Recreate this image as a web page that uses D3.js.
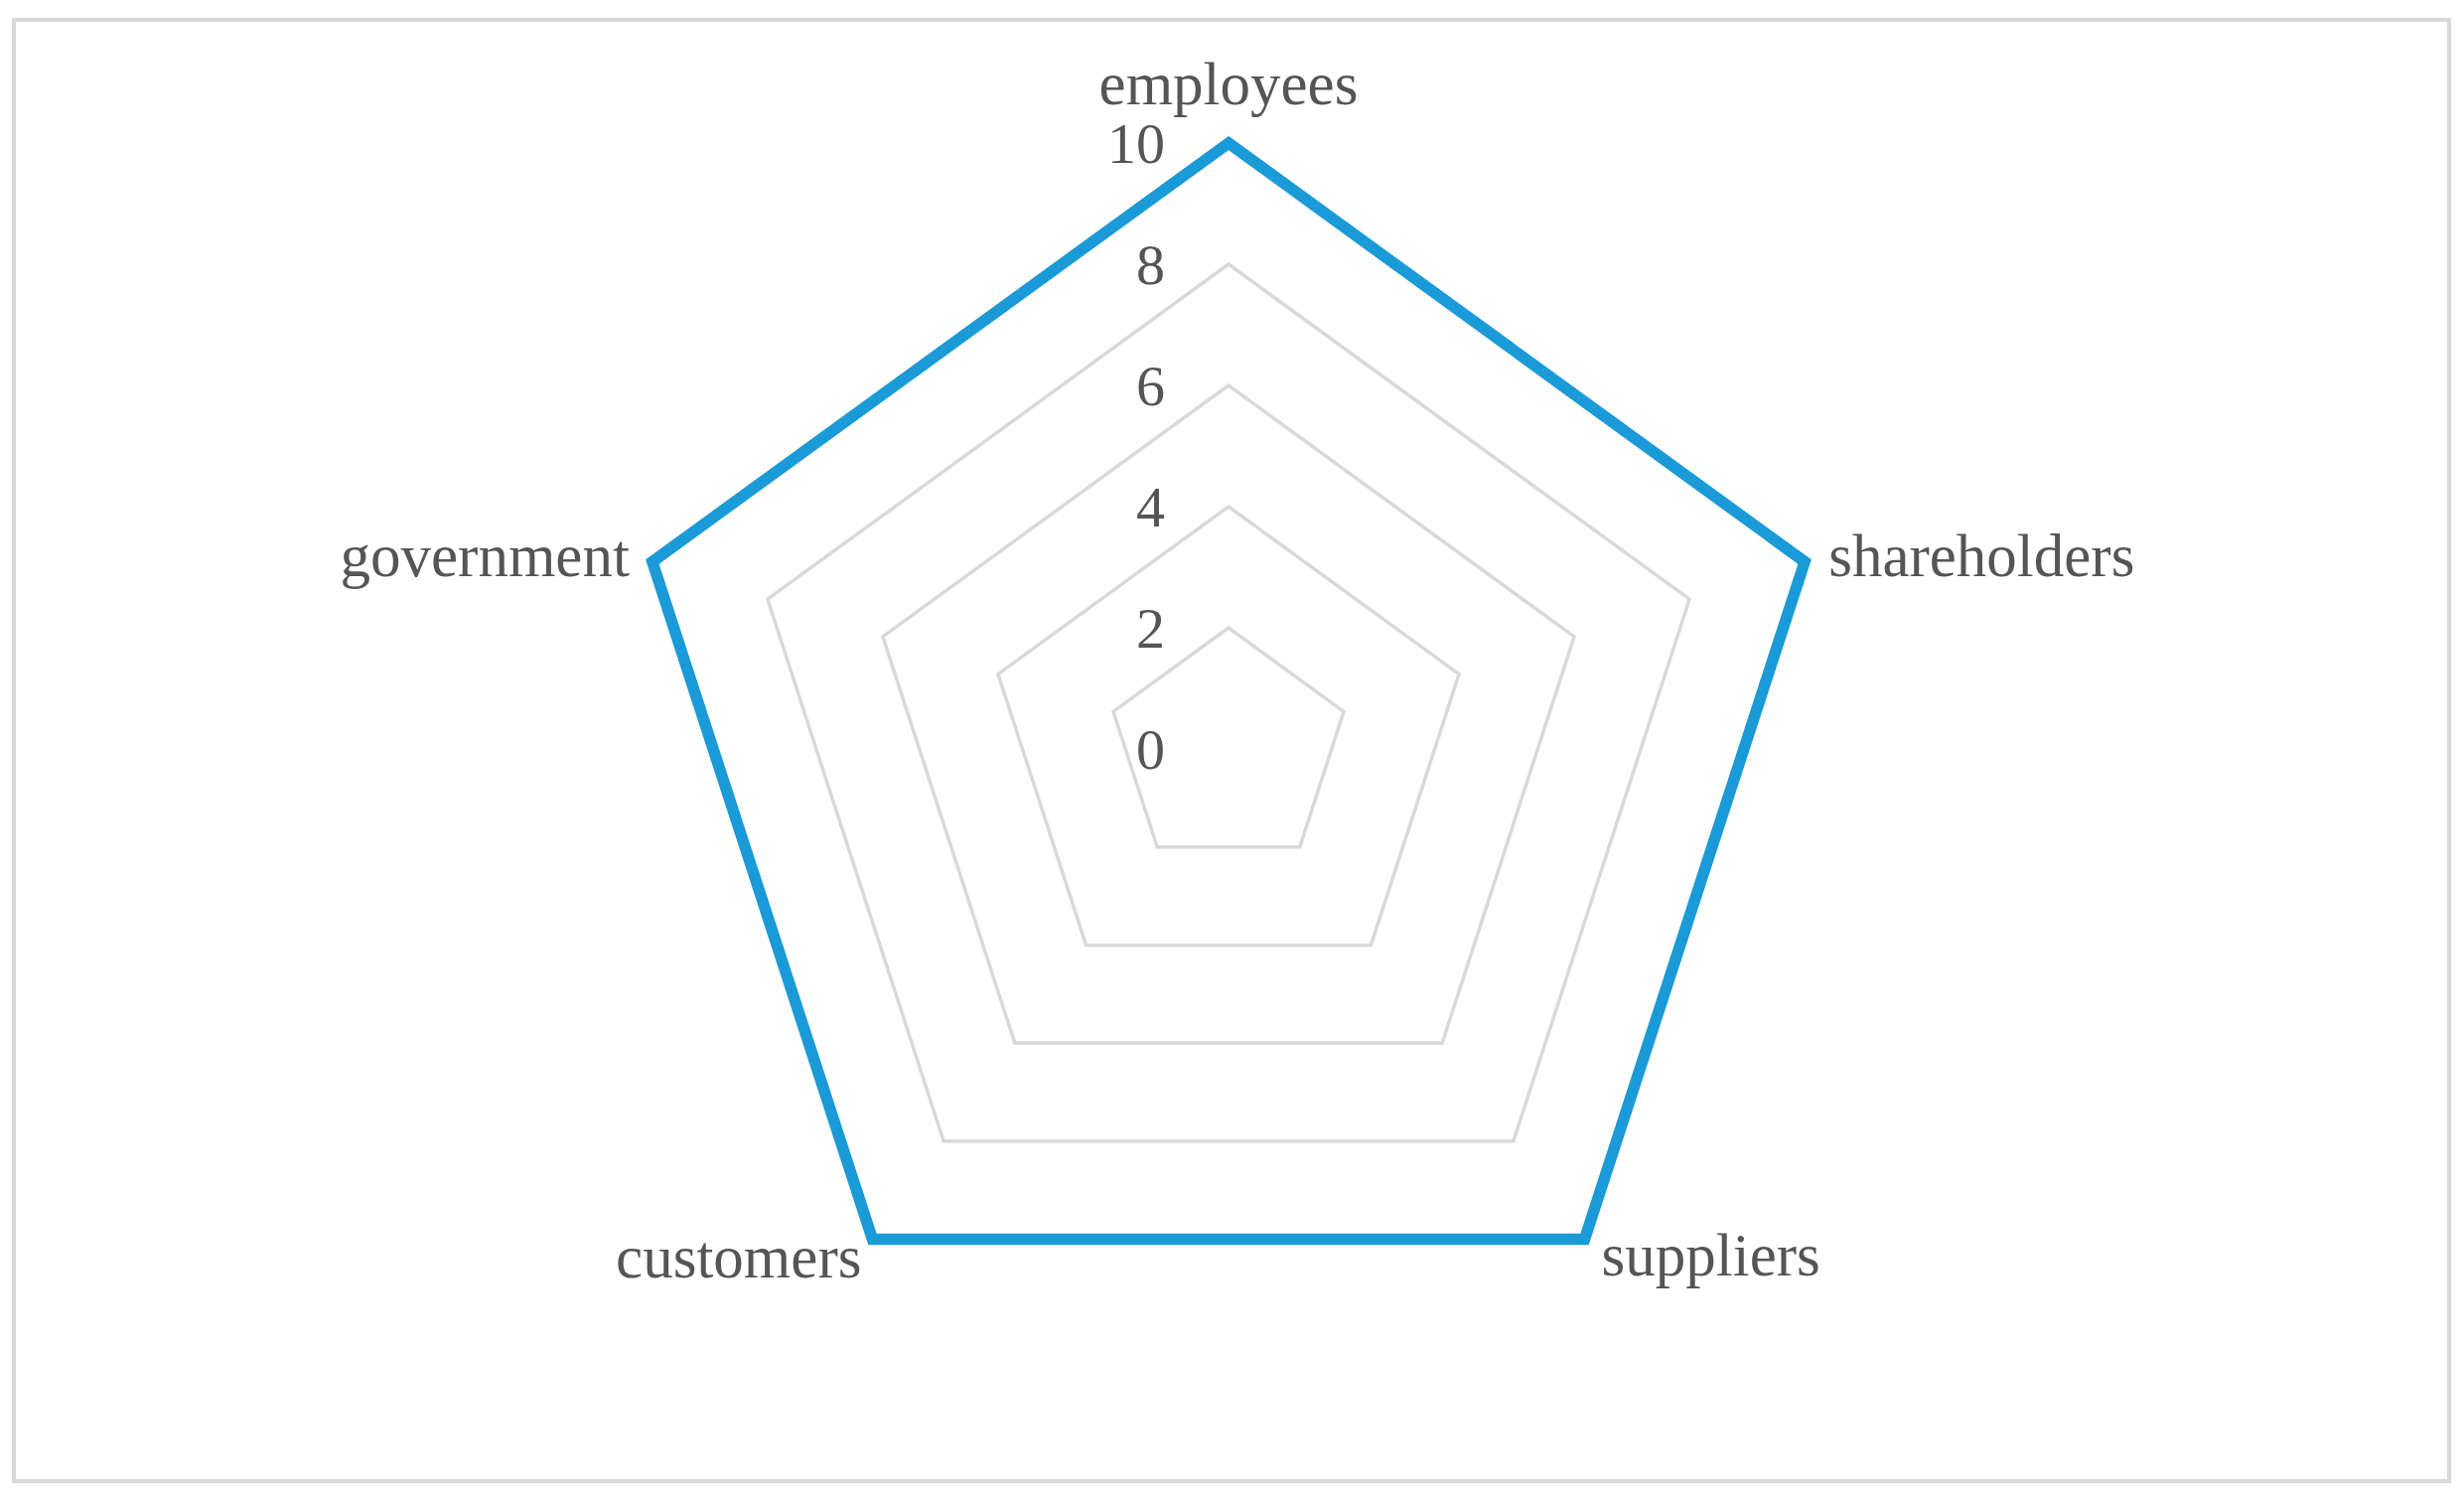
<!DOCTYPE html>
<html><head><meta charset="utf-8">
<script src="https://cdn.jsdelivr.net/npm/d3@7"></script>
<style>html,body{margin:0;padding:0;background:#fff;}</style>
</head><body>
<svg id="chart" width="2481" height="1508"></svg>
<script>
const categories = ["employees", "shareholders", "suppliers", "customers", "government"];
const values = [10, 10, 10, 10, 10];
const tickValues = [0, 2, 4, 6, 8, 10];

const W = 2481, H = 1508;
const cx = 1237, cy = 754, R = 610;
const svg = d3.select("#chart");

svg.append("rect").attr("x", 14).attr("y", 20).attr("width", 2452).attr("height", 1471)
  .attr("fill", "#fff").attr("stroke", "#d9d9d9").attr("stroke-width", 4);

const r = d3.scaleLinear().domain([0, 10]).range([0, R]);
const angle = d3.scalePoint().domain(categories).range([0, 2 * Math.PI * (categories.length - 1) / categories.length]);

const g = svg.append("g").attr("transform", `translate(${cx},${cy})`);

const pt = (cat, v) => {
  const a = angle(cat);
  return [r(v) * Math.sin(a), -r(v) * Math.cos(a)];
};

// grid
const gridLine = d3.line().curve(d3.curveLinearClosed);
tickValues.filter(t => t > 0).forEach(t => {
  g.append("path").attr("d", gridLine(categories.map(c => pt(c, t))))
    .attr("fill", "none").attr("stroke", "#d9d9d9").attr("stroke-width", 3.5);
});

// data
g.append("path").attr("d", gridLine(categories.map((c, i) => pt(c, values[i]))))
  .attr("fill", "none").attr("stroke", "#1a9ad6").attr("stroke-width", 11.5).attr("stroke-linejoin", "miter");

const font = "'Liberation Serif','Times New Roman',serif";
// tick labels
g.selectAll("text.tick").data(tickValues).join("text")
  .attr("class", "tick")
  .attr("x", -64).attr("y", d => -r(d))
  .attr("dy", "0.35em")
  .attr("text-anchor", "end")
  .attr("font-family", font).attr("font-size", 58).attr("fill", "#555555")
  .text(d => d);

// category labels
const labelPos = {
  employees: {dx: 0, dy: -39, anchor: "middle"},
  shareholders: {dx: 24, dy: 14, anchor: "start"},
  suppliers: {dx: 17, dy: 36, anchor: "start"},
  customers: {dx: -11, dy: 38, anchor: "end"},
  government: {dx: -23, dy: 14, anchor: "end"}
};
categories.forEach(c => {
  const [x, y] = pt(c, 10);
  const p = labelPos[c];
  g.append("text").attr("x", x + p.dx).attr("y", y + p.dy)
    .attr("text-anchor", p.anchor)
    .attr("font-family", font).attr("font-size", 61).attr("fill", "#555555")
    .text(c);
});
</script>
</body></html>
